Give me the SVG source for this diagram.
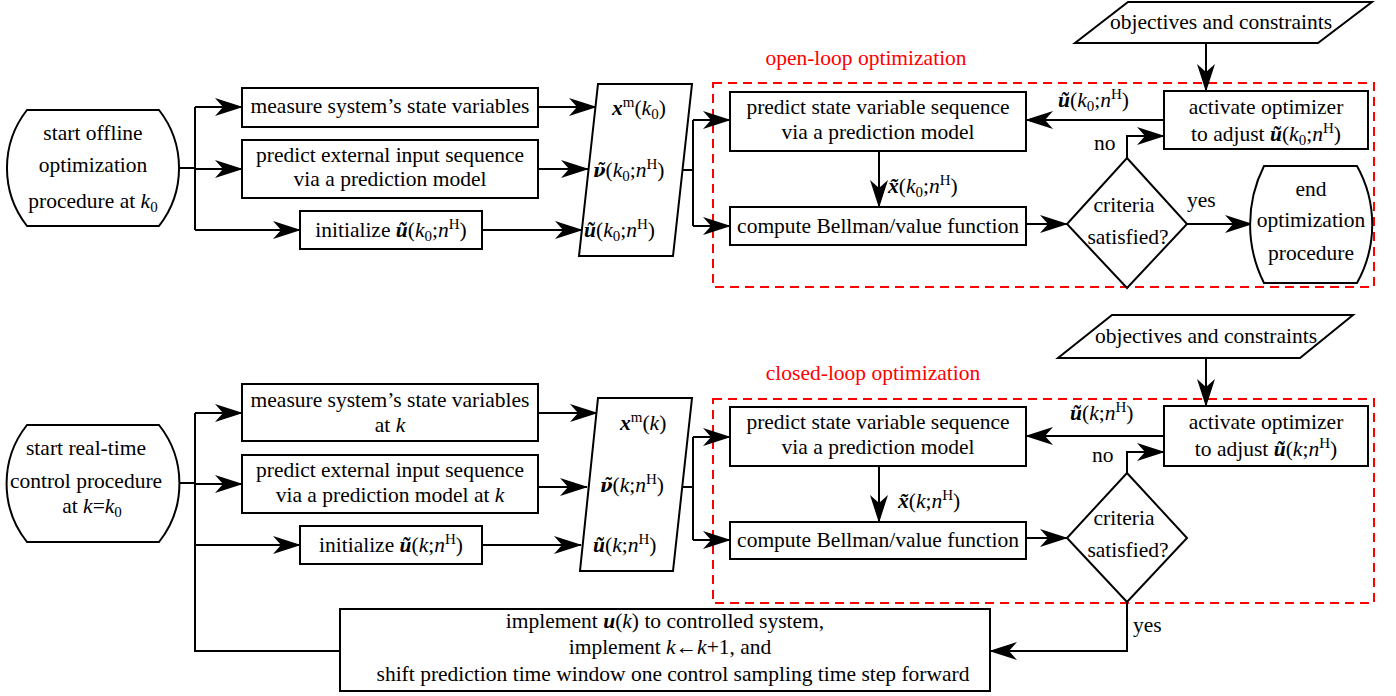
<svg xmlns="http://www.w3.org/2000/svg" width="1396" height="696" viewBox="0 0 1396 696">
<style>
.t{font-family:"Liberation Serif","Times New Roman",serif;font-size:21.5px;fill:#000}
.m{text-anchor:middle}
.i{font-style:italic}
.bi{font-style:italic;font-weight:bold}
.nu{font-family:"DejaVu Serif",serif;font-style:italic;font-weight:bold;font-size:18px}
.s{font-size:15px}
.red{fill:#ff0000}
.box{fill:#fff;stroke:#000;stroke-width:2}
.ln{fill:none;stroke:#000;stroke-width:2}
.arr{fill:none;stroke:#000;stroke-width:2;marker-end:url(#ah)}
.dash{fill:none;stroke:#ff0000;stroke-width:2;stroke-dasharray:9 6}
</style>
<defs>
<marker id="ah" markerUnits="userSpaceOnUse" markerWidth="28" markerHeight="18" viewBox="0 0 28 18" refX="27" refY="9" orient="auto">
<path d="M0,0 L28,9 L0,18 L8,9 Z" fill="#000"/>
</marker>
</defs>
<rect width="1396" height="696" fill="#fff"/>

<!-- dashed regions -->
<g id="openloop">
<rect class="dash" x="713" y="83" width="661" height="204"/>
<text class="t m red" x="866" y="65">open-loop optimization</text>
</g>
<g id="closedloop">
<rect class="dash" x="713" y="399" width="661" height="204"/>
<text class="t m red" x="873" y="380">closed-loop optimization</text>
</g>

<!-- connectors -->
<g id="connectors">
<!-- top -->
<path class="ln" d="M179,168 H195 M195,107 V230"/>
<path class="arr" d="M195,107 H242"/>
<path class="arr" d="M195,169 H242"/>
<path class="arr" d="M195,230 H300"/>
<path class="arr" d="M538,107 H596"/>
<path class="arr" d="M538,169 H588"/>
<path class="arr" d="M482,230 H582"/>
<path class="ln" d="M683,170 H693 M693,120 V226"/>
<path class="arr" d="M693,120 H730"/>
<path class="arr" d="M693,226 H730"/>
<path class="arr" d="M1164,120 H1026"/>
<path class="arr" d="M879,151 V207"/>
<path class="arr" d="M1026,224 H1067"/>
<path class="arr" d="M1127,158 V136 H1164"/>
<path class="arr" d="M1187,224 H1252"/>
<path class="arr" d="M1206,43 V91"/>
<!-- bottom -->
<path class="ln" d="M179,483 H195 M195,413 V651 H340"/>
<path class="arr" d="M195,413 H242"/>
<path class="arr" d="M195,484 H242"/>
<path class="arr" d="M195,545 H300"/>
<path class="arr" d="M538,413 H597"/>
<path class="arr" d="M538,487 H587"/>
<path class="arr" d="M482,545 H581"/>
<path class="ln" d="M683,487 H693 M693,437 V540"/>
<path class="arr" d="M693,437 H730"/>
<path class="arr" d="M693,540 H730"/>
<path class="arr" d="M1164,436 H1026"/>
<path class="arr" d="M879,466 V522"/>
<path class="arr" d="M1026,538 H1067"/>
<path class="arr" d="M1127,473 V452 H1164"/>
<path class="arr" d="M1206,358 V406"/>
<path class="arr" d="M1127,602 V651 H990"/>
</g>

<!-- connector labels -->
<g id="labels">
<text class="t" x="1058" y="107"><tspan class="bi">ũ</tspan>(<tspan class="i">k</tspan><tspan class="s" dy="4">0</tspan><tspan dy="-4">;</tspan><tspan class="i">n</tspan><tspan class="s" dy="-8">H</tspan><tspan dy="8">)</tspan></text>
<text class="t" x="888" y="193"><tspan class="bi">x̃</tspan>(<tspan class="i">k</tspan><tspan class="s" dy="4">0</tspan><tspan dy="-4">;</tspan><tspan class="i">n</tspan><tspan class="s" dy="-8">H</tspan><tspan dy="8">)</tspan></text>
<text class="t" x="1094" y="150">no</text>
<text class="t" x="1187" y="207">yes</text>
<text class="t" x="1070" y="420"><tspan class="bi">ũ</tspan>(<tspan class="i">k</tspan>;<tspan class="i">n</tspan><tspan class="s" dy="-8">H</tspan><tspan dy="8">)</tspan></text>
<text class="t" x="898" y="508"><tspan class="bi">x̃</tspan>(<tspan class="i">k</tspan>;<tspan class="i">n</tspan><tspan class="s" dy="-8">H</tspan><tspan dy="8">)</tspan></text>
<text class="t" x="1092" y="462">no</text>
<text class="t" x="1133" y="632">yes</text>
</g>

<!-- ============ TOP ============ -->
<g id="start1">
<path class="box" d="M27,110 H159 A94,94 0 0 1 159,226 H27 A94,94 0 0 1 27,110 Z"/>
<text class="t m" x="93" y="140">start offline</text>
<text class="t m" x="93" y="172">optimization</text>
<text class="t m" x="93" y="208">procedure at <tspan class="i">k</tspan><tspan class="s" dy="4">0</tspan></text>
</g>
<g id="measure1">
<rect class="box" x="242" y="88" width="296" height="39"/>
<text class="t m" x="390" y="113">measure system’s state variables</text>
</g>
<g id="predictext1">
<rect class="box" x="242" y="140" width="296" height="58"/>
<text class="t m" x="390" y="162">predict external input sequence</text>
<text class="t m" x="390" y="186">via a prediction model</text>
</g>
<g id="init1">
<rect class="box" x="300" y="211" width="182" height="38"/>
<text class="t m" x="391" y="237">initialize <tspan class="bi">ũ</tspan>(<tspan class="i">k</tspan><tspan class="s" dy="4">0</tspan><tspan dy="-4">;</tspan><tspan class="i">n</tspan><tspan class="s" dy="-8">H</tspan><tspan dy="8">)</tspan></text>
</g>
<g id="data1">
<path class="box" d="M598,84 H692 L673,256 H579 Z"/>
<text class="t" x="612" y="115"><tspan class="bi">x</tspan><tspan class="s" dy="-8">m</tspan><tspan dy="8">(</tspan><tspan class="i">k</tspan><tspan class="s" dy="4">0</tspan><tspan dy="-4">)</tspan></text>
<text class="t" x="593" y="177"><tspan class="nu">ν̃</tspan>(<tspan class="i">k</tspan><tspan class="s" dy="4">0</tspan><tspan dy="-4">;</tspan><tspan class="i">n</tspan><tspan class="s" dy="-8">H</tspan><tspan dy="8">)</tspan></text>
<text class="t" x="584" y="237"><tspan class="bi">ũ</tspan>(<tspan class="i">k</tspan><tspan class="s" dy="4">0</tspan><tspan dy="-4">;</tspan><tspan class="i">n</tspan><tspan class="s" dy="-8">H</tspan><tspan dy="8">)</tspan></text>
</g>
<g id="predictstate1">
<rect class="box" x="730" y="92" width="296" height="59"/>
<text class="t m" x="878" y="114">predict state variable sequence</text>
<text class="t m" x="878" y="139">via a prediction model</text>
</g>
<g id="compute1">
<rect class="box" x="730" y="207" width="296" height="38"/>
<text class="t m" x="878" y="233">compute Bellman/value function</text>
</g>
<g id="criteria1">
<path class="box" d="M1127,158 L1187,224 L1127,288 L1067,224 Z"/>
<text class="t m" x="1124" y="212">criteria</text>
<text class="t m" x="1128" y="244">satisfied?</text>
</g>
<g id="optimizer1">
<rect class="box" x="1164" y="91" width="204" height="58"/>
<text class="t m" x="1266" y="114">activate optimizer</text>
<text class="t m" x="1266" y="141">to adjust <tspan class="bi">ũ</tspan>(<tspan class="i">k</tspan><tspan class="s" dy="4">0</tspan><tspan dy="-4">;</tspan><tspan class="i">n</tspan><tspan class="s" dy="-8">H</tspan><tspan dy="8">)</tspan></text>
</g>
<g id="objectives1">
<path class="box" d="M1128,2 H1372 L1318,43 H1075 Z"/>
<text class="t m" x="1221" y="29">objectives and constraints</text>
</g>
<g id="end1">
<path class="box" d="M1264,166 H1357 A120,120 0 0 1 1357,283 H1264 A130,130 0 0 1 1264,166 Z"/>
<text class="t m" x="1311" y="196">end</text>
<text class="t m" x="1311" y="227">optimization</text>
<text class="t m" x="1311" y="260">procedure</text>
</g>

<!-- ============ BOTTOM ============ -->
<g id="start2">
<path class="box" d="M27,425 H159 A94,94 0 0 1 159,542 H27 A94,94 0 0 1 27,425 Z"/>
<text class="t m" x="86" y="455">start real-time</text>
<text class="t m" x="86" y="488">control procedure</text>
<text class="t m" x="92" y="513">at <tspan class="i">k</tspan>=<tspan class="i">k</tspan><tspan class="s" dy="4">0</tspan></text>
</g>
<g id="measure2">
<rect class="box" x="242" y="384" width="296" height="57"/>
<text class="t m" x="390" y="407">measure system’s state variables</text>
<text class="t m" x="390" y="432">at <tspan class="i">k</tspan></text>
</g>
<g id="predictext2">
<rect class="box" x="242" y="455" width="296" height="58"/>
<text class="t m" x="390" y="477">predict external input sequence</text>
<text class="t m" x="390" y="502">via a prediction model at <tspan class="i">k</tspan></text>
</g>
<g id="init2">
<rect class="box" x="300" y="526" width="182" height="38"/>
<text class="t m" x="391" y="552">initialize <tspan class="bi">ũ</tspan>(<tspan class="i">k</tspan>;<tspan class="i">n</tspan><tspan class="s" dy="-8">H</tspan><tspan dy="8">)</tspan></text>
</g>
<g id="data2">
<path class="box" d="M598,398 H692 L673,571 H580 Z"/>
<text class="t" x="620" y="430"><tspan class="bi">x</tspan><tspan class="s" dy="-8">m</tspan><tspan dy="8">(</tspan><tspan class="i">k</tspan>)</text>
<text class="t" x="600" y="492"><tspan class="nu">ν̃</tspan>(<tspan class="i">k</tspan>;<tspan class="i">n</tspan><tspan class="s" dy="-8">H</tspan><tspan dy="8">)</tspan></text>
<text class="t" x="593" y="552"><tspan class="bi">ũ</tspan>(<tspan class="i">k</tspan>;<tspan class="i">n</tspan><tspan class="s" dy="-8">H</tspan><tspan dy="8">)</tspan></text>
</g>
<g id="predictstate2">
<rect class="box" x="730" y="407" width="296" height="59"/>
<text class="t m" x="878" y="429">predict state variable sequence</text>
<text class="t m" x="878" y="454">via a prediction model</text>
</g>
<g id="compute2">
<rect class="box" x="730" y="522" width="296" height="37"/>
<text class="t m" x="878" y="547">compute Bellman/value function</text>
</g>
<g id="criteria2">
<path class="box" d="M1127,473 L1187,538 L1127,602 L1067,538 Z"/>
<text class="t m" x="1124" y="525">criteria</text>
<text class="t m" x="1128" y="557">satisfied?</text>
</g>
<g id="optimizer2">
<rect class="box" x="1164" y="406" width="204" height="60"/>
<text class="t m" x="1266" y="429">activate optimizer</text>
<text class="t m" x="1266" y="456">to adjust <tspan class="bi">ũ</tspan>(<tspan class="i">k</tspan>;<tspan class="i">n</tspan><tspan class="s" dy="-8">H</tspan><tspan dy="8">)</tspan></text>
</g>
<g id="objectives2">
<path class="box" d="M1112,315 H1353 L1300,358 H1058 Z"/>
<text class="t m" x="1206" y="343">objectives and constraints</text>
</g>
<g id="implement">
<rect class="box" x="340" y="609" width="650" height="82"/>
<text class="t m" x="665" y="628">implement <tspan class="bi">u</tspan>(<tspan class="i">k</tspan>) to controlled system,</text>
<text class="t m" x="670" y="654">implement <tspan class="i">k</tspan>←<tspan class="i">k</tspan>+1, and</text>
<text class="t m" x="673" y="681">shift prediction time window one control sampling time step forward</text>
</g>
</svg>
